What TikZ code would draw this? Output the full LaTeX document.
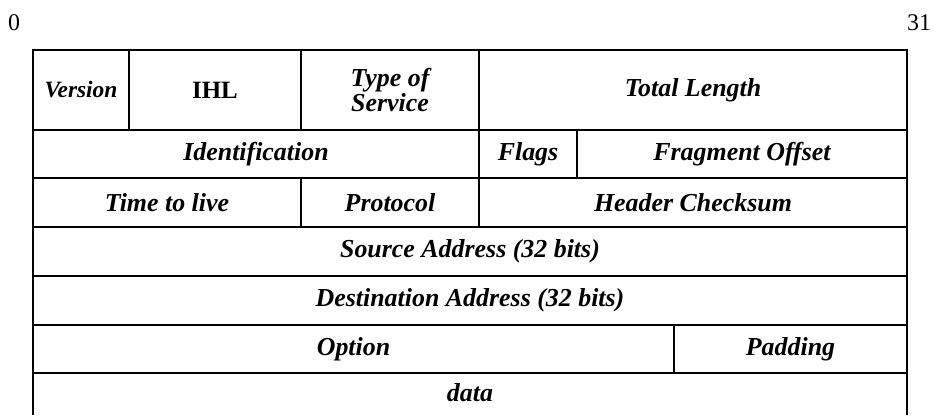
\documentclass[tikz,border=0pt]{standalone}
\usepackage{fontspec}
\setmainfont{Liberation Serif}
\tikzset{
  field/.style={draw, line width=1.6bp, rectangle, inner sep=0pt, outer sep=0pt,
    anchor=north west, align=center,
    font=\fontsize{26}{25}\selectfont\bfseries\itshape},
  rule/.style={line width=1.6bp},
  bitno/.style={inner sep=0pt, font=\fontsize{24}{24}\selectfont},
}
\begin{document}
\begin{tikzpicture}[x=1bp, y=-1bp]
  \useasboundingbox (0,0) rectangle (934,415);

  % bit numbers
  \node[bitno] (b0) at (14,23) {0};
  \node[bitno] (b31) at (919,23) {31};

  % row 1
  \node[field, minimum width=96bp, minimum height=80bp] (ver) at (33,50)
    {\fontsize{23.5}{25}\selectfont Version};
  \node[field, minimum width=172bp, minimum height=80bp] (ihl) at (129,50)
    {\fontsize{25}{25}\selectfont\upshape IHL};
  \node[field, minimum width=178bp, minimum height=80bp] (tos) at (301,50)
    {Type of\\Service};
  \node[field, minimum width=428bp, minimum height=80bp] (len) at (479,50)
    {Total Length};

  % row 2
  \node[field, minimum width=446bp, minimum height=48bp] (ident) at (33,130)
    {Identification};
  \node[field, minimum width=98bp, minimum height=48bp] (flags) at (479,130)
    {Flags};
  \node[field, minimum width=330bp, minimum height=48bp] (frag) at (577,130)
    {Fragment Offset};

  % row 3
  \node[field, minimum width=268bp, minimum height=49bp] (ttl) at (33,178)
    {Time to live};
  \node[field, minimum width=178bp, minimum height=49bp] (proto) at (301,178)
    {Protocol};
  \node[field, minimum width=428bp, minimum height=49bp] (csum) at (479,178)
    {Header Checksum};

  % rows 4 and 5
  \node[field, minimum width=874bp, minimum height=49bp] (src) at (33,227)
    {Source Address (32 bits)};
  \node[field, minimum width=874bp, minimum height=49bp] (dst) at (33,276)
    {Destination Address (32 bits)};

  % row 6
  \node[field, minimum width=641bp, minimum height=48bp] (opt) at (33,325)
    {Option};
  \node[field, minimum width=233bp, minimum height=48bp] (pad) at (674,325)
    {Padding};

  % open data row
  \coordinate (dl) at (33,415);
  \coordinate (dr) at (907,415);
  \draw[rule] (opt.south west) -- (dl);
  \draw[rule] (pad.south east) -- (dr);
  \node[inner sep=0pt, font=\fontsize{26}{25}\selectfont\bfseries\itshape] (data) at (470,393) {data};
\end{tikzpicture}
\end{document}
